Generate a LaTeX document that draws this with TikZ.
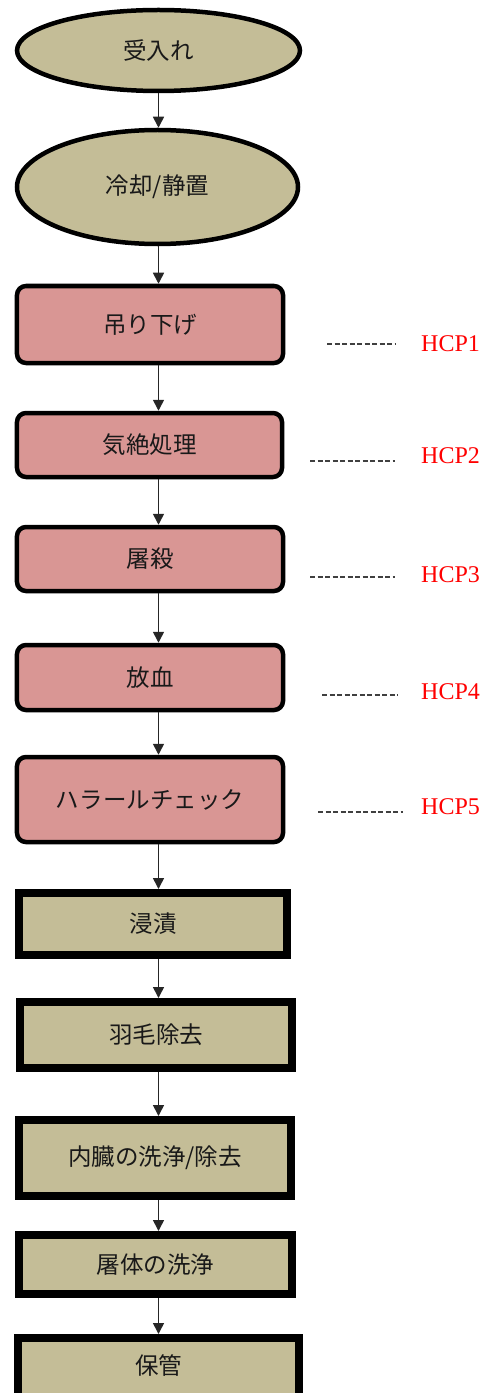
\documentclass[tikz,border=0pt]{standalone}
\usepackage{fontspec}
\setmainfont{Liberation Serif}
\newfontfamily\jp{Noto Sans CJK JP}
\usetikzlibrary{arrows.meta,shapes.geometric}
\definecolor{tanfill}{HTML}{C4BD97}
\definecolor{pinkfill}{HTML}{D99694}
\begin{document}
\begin{tikzpicture}[x=1bp,y=-1bp,
 base/.style={inner sep=0pt, font=\jp\fontsize{23.5bp}{28bp}\selectfont, text=black!90},
 oval/.style={base, ellipse, draw=black, line width=4.5bp, fill=tanfill},
 rbox/.style={base, rectangle, rounded corners=9bp, draw=black, line width=4.5bp, fill=pinkfill},
 sbox/.style={base, rectangle, draw=black, line width=8bp, fill=tanfill},
 flow/.style={-{Triangle[length=11bp,width=11bp]}, line width=1.6bp, draw=black!85},
 hcp/.style={anchor=west, inner sep=0pt, text=red, font=\fontsize{24bp}{28bp}\selectfont},
 hdash/.style={line width=1.2bp, draw=black!75, dash pattern=on 5bp off 2.5bp}]
\useasboundingbox (0,0) rectangle (481,1393);
\coordinate (ax) at (158.5,0);
% flow shapes
\node[oval, minimum width=283bp, minimum height=81bp] (e1) at (158.5,50.5) {受入れ};
\node[oval, minimum width=281bp, minimum height=114bp] (e2) at (157.5,187) {冷却/静置};
\node[rbox, minimum width=266bp, minimum height=77bp] (r1) at (150,324.5) {吊り下げ};
\node[rbox, minimum width=265bp, minimum height=64bp] (r2) at (149.5,445) {気絶処理};
\node[rbox, minimum width=266bp, minimum height=64bp] (r3) at (150,559) {屠殺};
\node[rbox, minimum width=266bp, minimum height=65bp] (r4) at (150,677.5) {放血};
\node[rbox, minimum width=266bp, minimum height=85bp] (r5) at (150,799.5) {ハラールチェック};
\node[sbox, minimum width=268bp, minimum height=62bp] (s6) at (153,924) {浸漬};
\node[sbox, minimum width=272bp, minimum height=66bp] (s7) at (156,1035) {羽毛除去};
\node[sbox, minimum width=272bp, minimum height=76bp] (s8) at (155,1158) {内臓の洗浄/除去};
\node[sbox, minimum width=281bp, text height=36bp, text depth=44bp, anchor=base] (s10) at (158.5,1374) {保管};
\node[sbox, minimum width=273bp, minimum height=59bp] (s9) at (155.5,1264.5) {屠体の洗浄};
% arrows
\foreach \a/\b in {e1/e2,e2/r1,r1/r2,r2/r3,r3/r4,r4/r5,r5/s6,s6/s7,s7/s8,s8/s9,s9/s10}
  \draw[flow] (\a.south -| ax) -- (\b.north -| ax);
% HCP labels
\node[hcp] (h1) at (421,343.5) {HCP1};
\node[hcp] (h2) at (421,456) {HCP2};
\node[hcp] (h3) at (421,575) {HCP3};
\node[hcp] (h4) at (421,692) {HCP4};
\node[hcp] (h5) at (421,807) {HCP5};
\coordinate (d1a) at (327,344); \coordinate (d1b) at (395,344);
\coordinate (d2a) at (310,461); \coordinate (d2b) at (395,461);
\coordinate (d3a) at (310,577); \coordinate (d3b) at (395,577);
\coordinate (d4a) at (322,695); \coordinate (d4b) at (398,695);
\coordinate (d5a) at (318,812); \coordinate (d5b) at (403,812);
\foreach \i in {1,...,5}
  \draw[hdash] (d\i a) -- (d\i b);
\end{tikzpicture}
\end{document}
